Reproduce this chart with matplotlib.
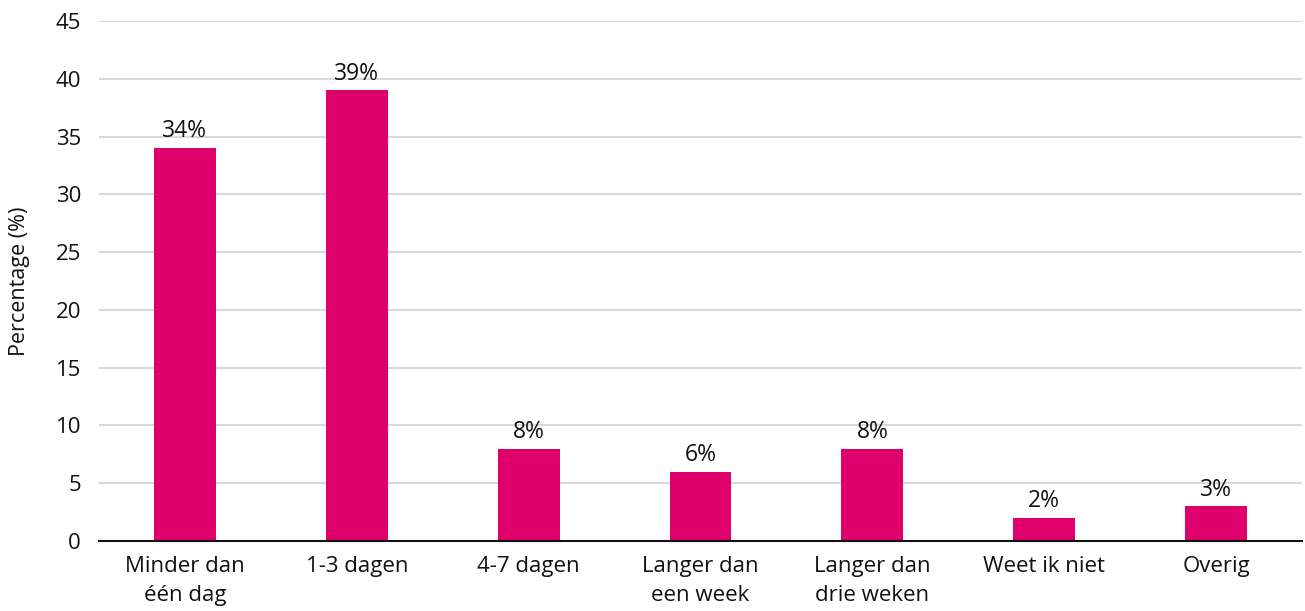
import matplotlib
matplotlib.use("Agg")
import matplotlib.pyplot as plt

categories = ["Minder dan\néén dag", "1-3 dagen", "4-7 dagen", "Langer dan\neen week",
              "Langer dan\ndrie weken", "Weet ik niet", "Overig"]
values = [34, 39, 8, 6, 8, 2, 3]
yticks = [0, 5, 10, 15, 20, 25, 30, 35, 40, 45]

plt.rcParams['font.family'] = ['Open Sans', 'DejaVu Sans']

fig = plt.figure(figsize=(13.05, 6.11), dpi=100)
ax = fig.add_axes([99/1305, 1-541/611, (1302-99)/1305, (541-21)/611])

x = list(range(len(categories)))
bars = ax.bar(x, values, width=0.36, color="#E0006B", zorder=3)
for xi, v in zip(x, values):
    ax.text(xi, v + 0.4, f"{v}%", ha="center", va="bottom", fontsize=16.5, color="#111111")

ax.set_xlim(-0.5, len(categories) - 0.5)
ax.set_ylim(0, 45)
ax.set_yticks(yticks)
ax.set_yticklabels([str(t) for t in yticks], fontsize=16)
ax.set_xticks(x)
ax.set_xticklabels(categories, fontsize=16, linespacing=1.5)
ax.tick_params(axis="both", length=0, colors="#111111")
ax.tick_params(axis="y", pad=13)
ax.tick_params(axis="x", pad=11)
ax.grid(axis="y", color="#d9d9d9", linewidth=1.5, zorder=0)
for s in ["top", "right", "left"]:
    ax.spines[s].set_visible(False)
ax.spines["bottom"].set_color("#111111")
ax.spines["bottom"].set_linewidth(1.5)
ax.spines["bottom"].set_zorder(4)
ax.set_ylabel("Percentage (%)", fontsize=15.5, color="#111111")
ax.yaxis.set_label_coords(-0.057, 0.5)

fig.savefig("out.png", dpi=100)
